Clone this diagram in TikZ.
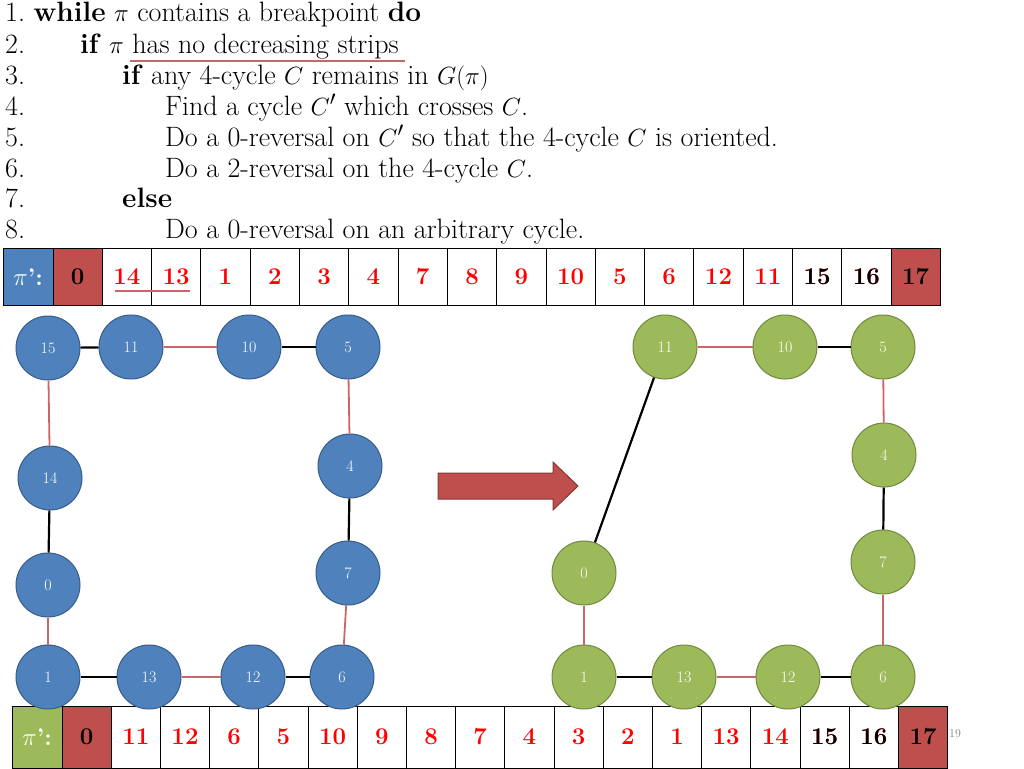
\documentclass[tikz,border=0pt]{standalone}
\usepackage{amsmath}
\usepackage{tikz}
\definecolor{nblue}{rgb}{0.31,0.51,0.74}
\definecolor{nblueb}{rgb}{0.22,0.36,0.54}
\definecolor{ngreen}{rgb}{0.61,0.73,0.35}
\definecolor{ngreenb}{rgb}{0.44,0.54,0.25}
\definecolor{cred}{rgb}{0.75,0.31,0.30}
\definecolor{ered}{rgb}{0.80,0.40,0.40}
\tikzset{
 bnode/.style={circle,draw=nblueb,fill=nblue,line width=1pt,minimum size=64pt,inner sep=0pt,text=white,font=\fontsize{16}{16}\selectfont},
 gnode/.style={circle,draw=ngreenb,fill=ngreen,line width=1pt,minimum size=64pt,inner sep=0pt,text=white,font=\fontsize{16}{16}\selectfont},
 redge/.style={ered,line width=1.8pt},
 kedge/.style={black,line width=2.2pt},
 cell/.style={draw,line width=0.8pt,minimum height=57pt,inner sep=0pt,font=\fontsize{24}{24}\selectfont\bfseries},
 algo/.style={anchor=base west,inner sep=0pt,font=\fontsize{28}{28}\selectfont}
}
\begin{document}
\begin{tikzpicture}[x=1pt,y=-1pt]
\useasboundingbox (0,0) rectangle (1024,768);
% algorithm
\node[algo] (l1) at (5,22) {1.\ \textbf{while} $\pi$ contains a breakpoint \textbf{do}};
\node[algo] (l2) at (5,53) {2.};
\node[algo] at (80,53) {\textbf{if} $\pi$ has no decreasing strips};
\node[algo] (l3) at (5,84) {3.};
\node[algo] at (122,84) {\textbf{if} any 4-cycle $C$ remains in $G(\pi)$};
\node[algo] (l4) at (5,115) {4.};
\node[algo] at (165,115) {Find a cycle $C'$ which crosses $C$.};
\node[algo] (l5) at (5,146) {5.};
\node[algo] at (165,146) {Do a 0-reversal on $C'$ so that the 4-cycle $C$ is oriented.};
\node[algo] (l6) at (5,177) {6.};
\node[algo] at (165,177) {Do a 2-reversal on the 4-cycle $C$.};
\node[algo] (l7) at (5,207) {7.};
\node[algo] at (122,207) {\textbf{else}};
\node[algo] (l8) at (5,238) {8.};
\node[algo] at (165,238) {Do a 0-reversal on an arbitrary cycle.};
\draw[ered,line width=1.5pt] (130,61) -- (405,61);

% top array
\node[cell,fill=nblue,text=white,minimum width=50pt] (pt) at (28,277) {$\pi$'\/:};
\foreach \v [count=\i from 0] in {0,14,13,1,2,3,4,7,8,9,10,5,6,12,11,15,16,17}
{
 \node[cell,minimum width=49.3pt,text=red] (t\i) at (77.6+49.3*\i,277) {\v};
}
\node[cell,fill=cred,minimum width=49.3pt] at (t0) {0};
\node[cell,minimum width=49.3pt] at (t15) {15};
\node[cell,minimum width=49.3pt] at (t16) {16};
\node[cell,fill=cred,minimum width=49.3pt] at (t17) {17};
\draw[ered,line width=1.5pt] (115,291) -- (190,291);

% bottom array
\node[cell,fill=ngreen,text=white,minimum width=50pt,minimum height=62pt] (pb) at (37,737) {$\pi$'\/:};
\foreach \v [count=\i from 0] in {0,11,12,6,5,10,9,8,7,4,3,2,1,13,14,15,16,17}
{
 \node[cell,minimum width=49.2pt,minimum height=62pt,text=red] (b\i) at (86.6+49.2*\i,737) {\v};
}
\node[cell,fill=cred,minimum width=49.2pt,minimum height=62pt] at (b0) {0};
\node[cell,minimum width=49.2pt,minimum height=62pt] at (b15) {15};
\node[cell,minimum width=49.2pt,minimum height=62pt] at (b16) {16};
\node[cell,fill=cred,minimum width=49.2pt,minimum height=62pt] at (b17) {17};
\node[text=gray,font=\fontsize{12}{12}\selectfont] (pg) at (955,734) {19};

% left graph
\foreach \n/\x/\y in {15/48/348,11/131/347,10/249/347,5/348/347,14/50/478,4/350/466,0/48/585,7/348/573,1/48/677,13/149/677,12/253/677,6/342/677}
 \node[bnode] (L\n) at (\x,\y) {\n};
% right graph
\foreach \n/\x/\y in {11/665/347,10/785/347,5/883/347,4/884/455,0/584/573,7/883/562,1/584/677,13/684/677,12/788/677,6/883/677}
 \node[gnode] (R\n) at (\x,\y) {\n};

\draw[kedge] (L15) -- (L11);
\draw[redge] (L11) -- (L10);
\draw[kedge] (L10) -- (L5);
\draw[redge] (L15) -- (L14);
\draw[redge] (L5) -- (L4);
\draw[kedge] (L14) -- (L0);
\draw[kedge] (L4) -- (L7);
\draw[redge] (L0) -- (L1);
\draw[redge] (L7) -- (L6);
\draw[kedge] (L1) -- (L13);
\draw[redge] (L13) -- (L12);
\draw[kedge] (L12) -- (L6);

\draw[redge] (R11) -- (R10);
\draw[kedge] (R10) -- (R5);
\draw[redge] (R5) -- (R4);
\draw[kedge] (R4) -- (R7);
\draw[redge] (R7) -- (R6);
\draw[kedge] (R11) -- (R0);
\draw[redge] (R0) -- (R1);
\draw[kedge] (R1) -- (R13);
\draw[redge] (R13) -- (R12);
\draw[kedge] (R12) -- (R6);

% block arrow
\draw[fill=cred,draw=cred!70!black,line width=1pt] (438,473) -- (553,473) -- (553,462) -- (578,486) -- (553,510) -- (553,499) -- (438,499) -- cycle;
\end{tikzpicture}
\end{document}
